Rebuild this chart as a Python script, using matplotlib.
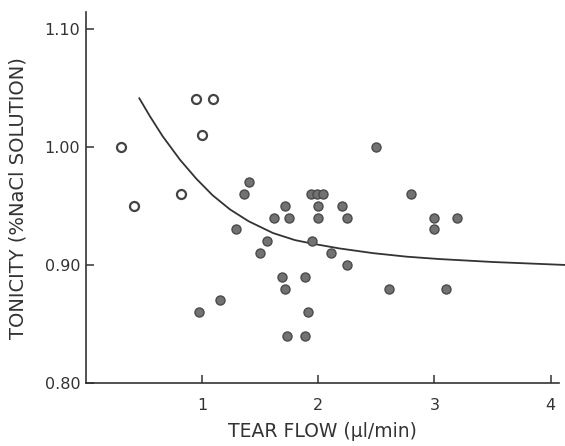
import matplotlib
matplotlib.use("Agg")
import matplotlib.pyplot as plt

# Open circles (tear flow, tonicity)
open_x = [0.30, 0.41, 0.82, 0.95, 1.09, 1.00]
open_y = [1.00, 0.95, 0.96, 1.04, 1.04, 1.01]

# Filled circles
filled_x = [1.40, 1.36, 1.29, 1.56, 1.50, 1.62, 1.71, 1.75, 1.69, 1.71, 1.89,
            0.97, 1.15, 1.91, 1.73, 1.89, 1.94, 1.99, 2.04, 2.00, 2.00, 1.95,
            2.11, 2.20, 2.25, 2.25, 2.50, 2.80, 3.00, 3.00, 3.19, 2.61, 3.10]
filled_y = [0.97, 0.96, 0.93, 0.92, 0.91, 0.94, 0.95, 0.94, 0.89, 0.88, 0.89,
            0.86, 0.87, 0.86, 0.84, 0.84, 0.96, 0.96, 0.96, 0.95, 0.94, 0.92,
            0.91, 0.95, 0.94, 0.90, 1.00, 0.96, 0.94, 0.93, 0.94, 0.88, 0.88]

# Fitted curve
curve_x = [0.46, 0.55, 0.66, 0.81, 0.95, 1.09, 1.24, 1.40, 1.61, 1.80, 1.95,
           2.18, 2.47, 2.76, 3.04, 3.50, 4.12]
curve_y = [1.041, 1.026, 1.009, 0.989, 0.973, 0.959, 0.947, 0.937, 0.927, 0.921,
           0.918, 0.914, 0.910, 0.907, 0.905, 0.9025, 0.900]

x_ticks = [1, 2, 3, 4]
x_ticklabels = ["1", "2", "3", "4"]
y_ticks = [0.80, 0.90, 1.00, 1.10]
y_ticklabels = ["0.80", "0.90", "1.00", "1.10"]

ink = "#333333"
fig = plt.figure(figsize=(5.65, 4.46), dpi=100)
ax = fig.add_axes([0.152, 0.141, 0.837, 0.832])

ax.plot(curve_x, curve_y, color=ink, lw=1.3, clip_on=False, zorder=2,
        solid_joinstyle="round")
ax.plot(filled_x, filled_y, 'o', ms=6.5, mfc="#727272", mec="#4a4a4a", mew=1.0,
        ls='none', zorder=3, clip_on=False)
ax.plot(open_x, open_y, 'o', ms=6.5, mfc="white", mec="#444444", mew=1.6,
        ls='none', zorder=3, clip_on=False)

ax.set_xlim(0, 4.07)
ax.set_ylim(0.80, 1.114)
ax.set_xticks(x_ticks)
ax.set_xticklabels(x_ticklabels)
ax.set_yticks(y_ticks)
ax.set_yticklabels(y_ticklabels)

for s in ["top", "right"]:
    ax.spines[s].set_visible(False)
for s in ["left", "bottom"]:
    ax.spines[s].set_color(ink)
    ax.spines[s].set_linewidth(1.2)

ax.tick_params(direction="in", length=6, width=1.1, colors=ink, labelsize=11.5,
               labelcolor=ink)
ax.tick_params(axis="x", pad=11)
ax.tick_params(axis="y", pad=4)

ax.set_xlabel("TEAR FLOW (µl/min)", fontsize=13.5, color=ink, labelpad=6)
ax.set_ylabel("TONICITY (%NaCl SOLUTION)", fontsize=14, color=ink, labelpad=12)

fig.savefig("out.png", dpi=100)
